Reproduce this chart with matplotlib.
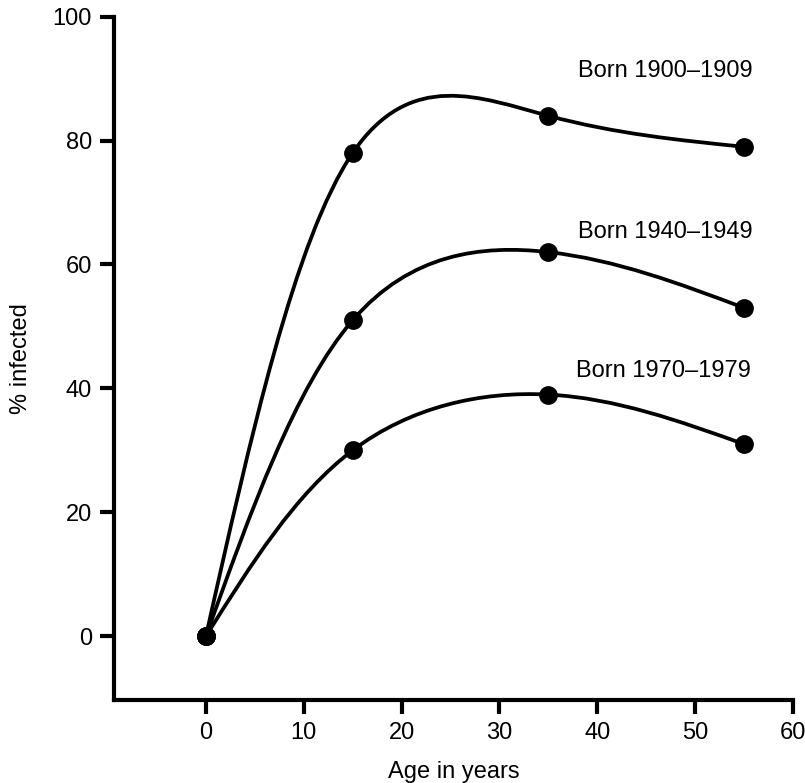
import numpy as np
import matplotlib
matplotlib.use("Agg")
import matplotlib.pyplot as plt
from matplotlib.path import Path
from matplotlib.patches import PathPatch

plt.rcParams['font.family'] = ['Liberation Sans', 'DejaVu Sans']

ages = [0, 15, 35, 55]
born_1900_1909 = [0, 78, 84, 79]
born_1940_1949 = [0, 51, 62, 53]
born_1970_1979 = [0, 30, 39, 31]
series_labels = ["Born 1900\u20131909", "Born 1940\u20131949", "Born 1970\u20131979"]
x_ticks = [0, 10, 20, 30, 40, 50, 60]
y_ticks = [0, 20, 40, 60, 80, 100]


def smooth_path(x, y):
    """Bezier path through the data points: parametric natural spline
    (uniform parameter), expressed as cubic Bezier segments."""
    P = np.column_stack([x, y]).astype(float)
    n = len(P)
    A = np.zeros((n, n))
    R = np.zeros((n, 2))
    A[0, 0], A[0, 1] = 2, 1
    R[0] = 3 * (P[1] - P[0])
    A[-1, -2], A[-1, -1] = 1, 2
    R[-1] = 3 * (P[-1] - P[-2])
    for i in range(1, n - 1):
        A[i, i - 1], A[i, i], A[i, i + 1] = 1, 4, 1
        R[i] = 3 * (P[i + 1] - P[i - 1])
    D = np.linalg.solve(A, R)
    verts = [P[0]]
    codes = [Path.MOVETO]
    for i in range(n - 1):
        verts += [P[i] + D[i] / 3.0, P[i + 1] - D[i + 1] / 3.0, P[i + 1]]
        codes += [Path.CURVE4] * 3
    return Path(verts, codes)


fig = plt.figure(figsize=(8.05, 7.83), dpi=100)
ax = fig.add_axes([0.1416, 0.106, 0.985 - 0.1416, 0.9787 - 0.106])

for vals in (born_1900_1909, born_1940_1949, born_1970_1979):
    patch = PathPatch(smooth_path(ages, vals), facecolor='none',
                      edgecolor='black', lw=2.7, capstyle='round', zorder=2)
    ax.add_patch(patch)
    ax.plot(ages, vals, 'o', color='black', ms=12.5, zorder=3)

label_pos = [(47, 91.3), (47, 65.3), (46.8, 42.8)]
for (lx, ly), t in zip(label_pos, series_labels):
    ax.text(lx, ly, t, ha='center', va='center', fontsize=17)

ax.set_xlim(-9.4, 60)
ax.set_ylim(-10.3, 100)
ax.set_xticks(x_ticks)
ax.set_yticks(y_ticks)
for s in ('top', 'right'):
    ax.spines[s].set_visible(False)
for s in ('left', 'bottom'):
    ax.spines[s].set_linewidth(3)
ax.tick_params(direction='out', length=10, width=3, labelsize=17, pad=6)
ax.set_xlabel('Age in years', fontsize=17, labelpad=12)
ax.set_ylabel('% infected', fontsize=17, labelpad=15)

fig.savefig('out.png', dpi=100)
